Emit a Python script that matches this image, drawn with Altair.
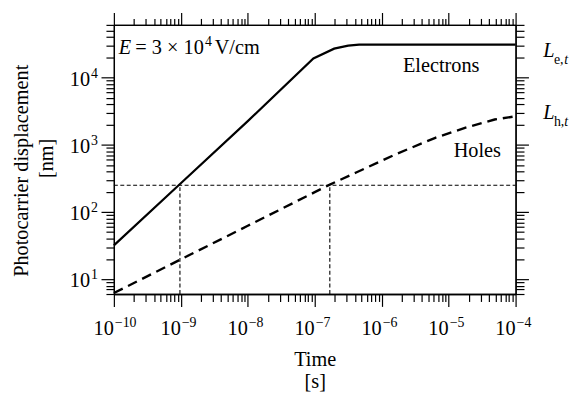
import altair as alt
import pandas as pd

# ---- data ----
e_time = [1e-10, 1e-9, 1e-8, 9.55e-8, 1.95e-7, 3.16e-7, 4.6e-7, 1e-4]
e_disp = [31.8, 267, 2250, 19300, 27000, 29900, 31000, 31000]

h_time = [1e-10, 1e-9, 1e-8, 1e-7, 1.68e-7, 4.16e-7, 1.62e-6, 6.32e-6, 1.75e-5, 4.86e-5, 1e-4]
h_disp = [6.2, 19.7, 62.2, 197, 255, 387, 723, 1271, 1786, 2377, 2661]

# dashed guide lines (x, x2, y, y2)
g_x = [1e-10, 9.7e-10, 1.68e-7]
g_x2 = [1e-4, 9.7e-10, 1.68e-7]
g_y = [250, 6, 6]
g_y2 = [250, 250, 250]

XDOM = [1e-10, 1e-4]
YDOM = [6, 61000]

x_major = [1e-10, 1e-9, 1e-8, 1e-7, 1e-6, 1e-5, 1e-4]
x_exps = ["−10", "−9", "−8", "−7", "−6", "−5", "−4"]
x_minor = [m * 10.0 ** e for e in range(-10, -4) for m in range(2, 10)]

y_major = [10, 100, 1000, 10000]
y_exps = ["1", "2", "3", "4"]
y_minor = [6, 7, 8, 9] + [m * 10 ** e for e in range(1, 5) for m in range(2, 10) if m * 10 ** e <= 60000]

# y-axis title lines (rotated)
yt_label = ["Photocarrier displacement", "[nm]"]
yt_x = [4.23e-12, 9.9e-12]
yt_y = [410, 627]

# annotations (upright)
txt_label = ["Electrons", "Holes", "= 3 × 10", "V/cm"]
txt_x = [7.74e-6, 2.68e-5, 2.09e-10, 3.21e-9]
txt_y = [12000, 661, 22800, 22800]
txt_align = ["center", "center", "left", "left"]

# italic symbols
it_label = ["E", "L", "L", "t", "t"]
it_x = [1.186e-10, 2.60e-4, 2.60e-4, 5.35e-4, 5.35e-4]
it_y = [22800, 20400, 2400, 16100, 1890]
it_size = [20.5, 20.5, 20.5, 14, 14]

# small texts (exponent / subscripts)
sm_label = ["4", "e,", "h,"]
sm_x = [2.29e-9, 3.74e-4, 3.74e-4]
sm_y = [29700, 16100, 1890]

FONT = "Liberation Serif"

base_axis = dict(grid=False, domainColor="black", domainWidth=1.3, tickColor="black",
                 tickWidth=1.2, labels=False, titleFont=FONT, titleFontSize=20.5,
                 titleColor="black", titleFontWeight="normal")


def ax(orient, values, size, title=None, **kw):
    return alt.Axis(orient=orient, values=values, tickSize=size, title=title, **base_axis, **kw)


xs = alt.Scale(type="log", domain=XDOM, nice=False)
ys = alt.Scale(type="log", domain=YDOM, nice=False)

e_df = pd.DataFrame({"t": e_time, "d": e_disp})
h_df = pd.DataFrame({"t": h_time, "d": h_disp})
g_df = pd.DataFrame({"x": g_x, "x2": g_x2, "y": g_y, "y2": g_y2})
t_df = pd.DataFrame({"x": txt_x, "y": txt_y, "label": txt_label, "align": txt_align})
i_df = pd.DataFrame({"x": it_x, "y": it_y, "label": it_label, "size": it_size})
s_df = pd.DataFrame({"x": sm_x, "y": sm_y, "label": sm_label})
xl_df = pd.DataFrame({"x": x_major, "y": [YDOM[0]] * len(x_major), "exp": x_exps})
yl_df = pd.DataFrame({"x": [XDOM[0]] * len(y_major), "y": y_major, "exp": y_exps})
yt_df = pd.DataFrame({"x": yt_x, "y": yt_y, "label": yt_label})

electrons = alt.Chart(e_df).mark_line(color="black", strokeWidth=2.2).encode(
    x=alt.X("t:Q", scale=xs, axis=ax("bottom", x_major, 12.5, ["Time", "[s]"],
                                      titlePadding=43, titleLineHeight=22)),
    y=alt.Y("d:Q", scale=ys, axis=ax("left", y_major, 13)),
)
holes = alt.Chart(h_df).mark_line(color="black", strokeWidth=2.4, strokeDash=[10, 6]).encode(
    x=alt.X("t:Q", scale=xs, axis=ax("bottom", x_minor, 7.5)),
    y=alt.Y("d:Q", scale=ys, axis=ax("left", y_minor, 8)),
)
guides = alt.Chart(g_df).mark_rule(color="black", strokeWidth=1.1, strokeDash=[4, 2.5]).encode(
    x=alt.X("x:Q", scale=xs, axis=ax("top", x_major, 12.5)), x2="x2:Q",
    y=alt.Y("y:Q", scale=ys, axis=ax("right", y_major, 13)), y2="y2:Q",
)
texts_center = alt.Chart(t_df[t_df["align"] == "center"]).mark_text(
    font=FONT, fontSize=20.5, align="center", baseline="alphabetic", color="black").encode(
    x=alt.X("x:Q", scale=xs, axis=ax("top", x_minor, 6.5)),
    y=alt.Y("y:Q", scale=ys, axis=ax("right", y_minor, 8.5)),
    text="label:N")


def txt(df, **kw):
    return alt.Chart(df).mark_text(font=FONT, color="black", **kw).encode(
        x=alt.X("x:Q", scale=xs, axis=None), y=alt.Y("y:Q", scale=ys, axis=None))


texts_left = txt(t_df[t_df["align"] == "left"], fontSize=20.5, align="left",
                 baseline="alphabetic").encode(text="label:N")
italics = txt(i_df, fontStyle="italic", align="left", baseline="alphabetic").encode(
    text="label:N", size=alt.Size("size:Q", scale=None, legend=None))
smalls = txt(s_df, fontSize=14, align="left", baseline="alphabetic").encode(text="label:N")

xl_base = txt(xl_df, fontSize=20.5, align="right", baseline="alphabetic", dy=41.7).encode(text=alt.value("10"))
xl_exp = txt(xl_df, fontSize=14, align="left", baseline="alphabetic", dx=1, dy=33).encode(text="exp:N")
yl_base = txt(yl_df, fontSize=20.5, align="right", baseline="alphabetic", dx=-24, dy=8.3).encode(text=alt.value("10"))
yl_exp = txt(yl_df, fontSize=14, align="left", baseline="alphabetic", dx=-23, dy=0).encode(text="exp:N")
y_title = txt(yt_df, fontSize=20.5, align="center", baseline="middle", angle=270).encode(text="label:N")

chart = alt.layer(
    guides, electrons, holes, texts_center, texts_left, italics, smalls,
    xl_base, xl_exp, yl_base, yl_exp, y_title,
).resolve_axis(
    x="independent", y="independent"
).properties(
    width=406, height=272,
    autosize=alt.AutoSizeParams(type="none"),
    padding={"left": 107, "top": 15, "right": 56, "bottom": 100},
).configure_view(stroke=None).configure(background="white")

chart.save("out.html", embed_options={"renderer": "svg", "actions": False})
